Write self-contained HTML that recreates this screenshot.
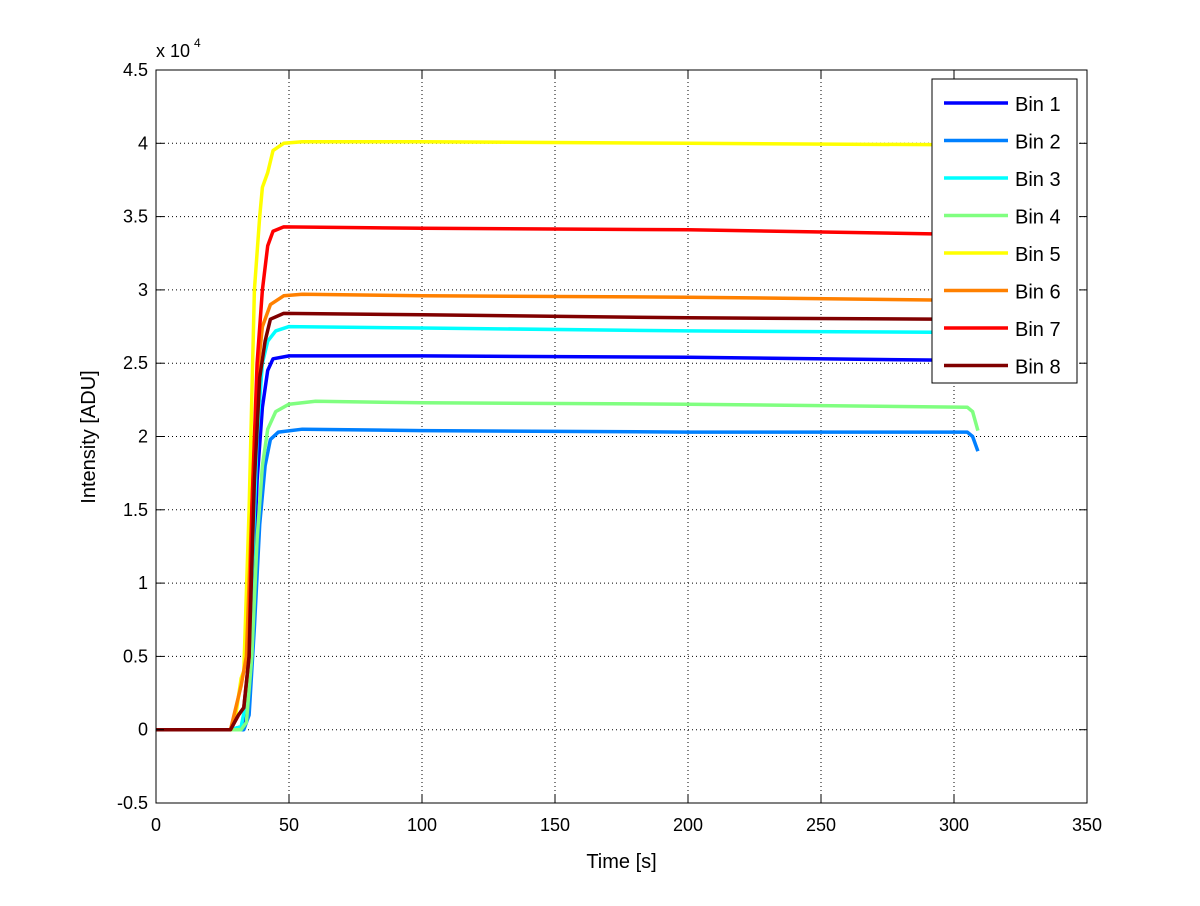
<!DOCTYPE html>
<html><head><meta charset="utf-8"><style>
body{margin:0;background:#fff}
svg text{font-family:"Liberation Sans",sans-serif;fill:#000}
</style></head><body>
<svg id="c" width="1200" height="901">
<rect x="0" y="0" width="1200" height="901" fill="#fff"/>
<g id="grid"></g><g id="series"></g><g id="axes"></g><g id="legend"></g>
</svg>
<script>
const xTicks=[0,50,100,150,200,250,300,350];
const yTicks=[-0.5,0,0.5,1,1.5,2,2.5,3,3.5,4,4.5];
const names=["Bin 1","Bin 2","Bin 3","Bin 4","Bin 5","Bin 6","Bin 7","Bin 8"];
const colors=["#0000ff","#0080ff","#00ffff","#80ff80","#ffff00","#ff8000","#ff0000","#800000"];
const t1=[0,28,32,34,36,38,40,42,44,50,100,200,300,309];
const v1=[0,0,0.02,0.1,0.8,1.7,2.2,2.45,2.53,2.55,2.55,2.54,2.52,2.52];
const t2=[0,28,33,35,37,39,41,43,46,55,100,200,305,307,309];
const v2=[0,0,0,0.1,0.7,1.4,1.8,1.98,2.03,2.05,2.04,2.03,2.03,2.0,1.9];
const t3=[0,28,32,34,36,38,40,42,45,50,100,200,300,309];
const v3=[0,0,0.02,0.2,1.0,2.0,2.5,2.65,2.72,2.75,2.74,2.72,2.71,2.71];
const t4=[0,28,32,34,36,38,40,42,45,50,60,100,200,305,307,309];
const v4=[0,0,0,0.05,0.5,1.3,1.8,2.05,2.17,2.22,2.24,2.23,2.22,2.2,2.17,2.04];
const t5=[0,28,30,32,33,35,37,39,40,42,44,48,55,100,200,300,309];
const v5=[0,0,0.1,0.35,0.4,1.5,3.0,3.5,3.7,3.8,3.95,4.0,4.01,4.01,4.0,3.99,3.99];
const t6=[0,28,30,32,34,36,38,40,43,48,55,100,200,300,309];
const v6=[0,0,0.15,0.3,0.5,1.5,2.4,2.75,2.9,2.96,2.97,2.96,2.95,2.93,2.93];
const t7=[0,28,31,33,35,36,38,40,42,44,48,100,200,300,309];
const v7=[0,0,0.1,0.15,0.5,1.5,2.5,3.0,3.3,3.4,3.43,3.42,3.41,3.38,3.38];
const t8=[0,28,31,33,35,37,39,41,43,48,100,200,300,309];
const v8=[0,0,0.1,0.15,0.5,1.7,2.4,2.65,2.8,2.84,2.83,2.81,2.8,2.8];
const T=[t1,t2,t3,t4,t5,t6,t7,t8], V=[v1,v2,v3,v4,v5,v6,v7,v8];
const L=156,R=1087,TOP=70,B=803;
const sx=t=>L+(t-0)/350*(R-L);
const sy=v=>B-(v+0.5)/5*(B-TOP);
const NS="http://www.w3.org/2000/svg";
function mk(tag,attrs,parent,txt){const e=document.createElementNS(NS,tag);for(const k in attrs)e.setAttribute(k,attrs[k]);if(txt!==undefined)e.textContent=txt;parent.appendChild(e);return e;}
const grid=document.getElementById('grid'),axes=document.getElementById('axes'),ser=document.getElementById('series'),leg=document.getElementById('legend');
xTicks.forEach(t=>{const x=sx(t);
 if(t>0&&t<350){const g=mk('line',{x1:x,x2:x,y1:TOP,y2:B,stroke:'#000','stroke-width':1,'stroke-dasharray':'1,3'},grid);}
 mk('line',{x1:x,x2:x,y1:B,y2:B-8,stroke:'#000'},axes);mk('line',{x1:x,x2:x,y1:TOP,y2:TOP+8,stroke:'#000'},axes);
 const l=mk('text',{x:x,y:B+28,'text-anchor':'middle','font-size':18},axes,String(t));
 });
yTicks.forEach(v=>{const y=sy(v);
 if(v>-0.5&&v<4.5){const g=mk('line',{x1:L,x2:R,y1:y,y2:y,stroke:'#000','stroke-width':1,'stroke-dasharray':'1,3'},grid);}
 mk('line',{x1:L,x2:L+8,y1:y,y2:y,stroke:'#000'},axes);mk('line',{x1:R,x2:R-8,y1:y,y2:y,stroke:'#000'},axes);
 const l=mk('text',{x:L-8,y:y+6,'text-anchor':'end','font-size':18},axes,String(v));
 });
const box=mk('rect',{x:L,y:TOP,width:R-L,height:B-TOP,fill:'none',stroke:'#000'},axes);

const xt=mk('text',{x:(L+R)/2,y:868,'text-anchor':'middle','font-size':20},axes,'Time [s]');

const yt=mk('text',{x:0,y:0,'text-anchor':'middle','font-size':20,transform:'translate(95,437) rotate(-90)'},axes,'Intensity [ADU]');

const ex=mk('text',{x:156,y:57,'font-size':18},axes,'x 10');

mk('text',{x:194,y:47,'font-size':12},axes,'4');
T.forEach((ts,i)=>{const d=ts.map((t,j)=>(j?'L':'M')+sx(t).toFixed(1)+','+sy(V[i][j]).toFixed(1)).join(' ');
 const p=mk('path',{d:d,fill:'none',stroke:colors[i],'stroke-width':3.5,'stroke-linejoin':'round'},ser);
 });
const lb=mk('rect',{x:932,y:79,width:145,height:304,fill:'#fff',stroke:'#000'},leg);

names.forEach((n,i)=>{const y=104+i*37.5;
 const g=mk('g',{},leg);
 mk('line',{x1:944,x2:1008,y1:y-1,y2:y-1,stroke:colors[i],'stroke-width':3.5},g);
 mk('text',{x:1015,y:y+7,'font-size':20},g,n);});
</script>
</body></html>
